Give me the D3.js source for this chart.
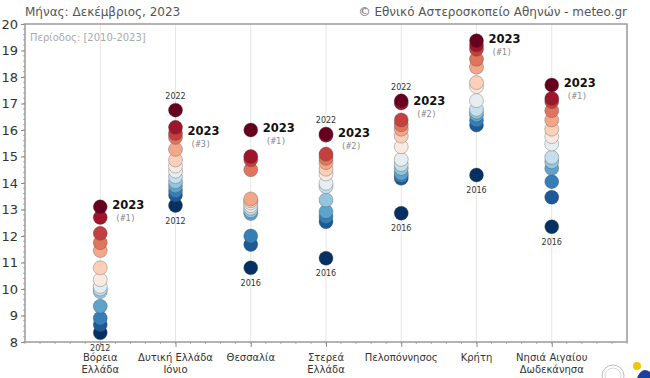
<!DOCTYPE html>
<html><head><meta charset="utf-8">
<script src="https://cdn.jsdelivr.net/npm/d3@7"></script>
<style>
body{margin:0;background:#fff;}
svg{display:block;font-family:"DejaVu Sans",Verdana,sans-serif;}
</style></head>
<body><svg id="c" width="650" height="378"></svg>
<script>
// ---- data ----
const regions = ["Βόρεια\nΕλλάδα","Δυτική Ελλάδα\nΙόνιο","Θεσσαλία","Στερεά\nΕλλάδα","Πελοπόννησος","Κρήτη","Νησιά Αιγαίου\nΔωδεκάνησα"];
const valuesBorEll = [13.1,12.7,12.1,11.75,11.45,10.8,10.35,10.1,10.0,9.9,9.35,8.9,8.65,8.35];
const valuesDytEll = [16.75,16.1,15.87,15.72,15.27,14.87,14.64,14.45,14.24,14.05,13.89,13.71,13.55,13.15];
const valuesThess = [16.0,15.0,14.88,14.5,13.4,13.33,13.25,13.15,13.05,12.95,12.85,12.0,11.68,10.8];
const valuesSterea = [15.85,15.8,15.09,14.93,14.77,14.52,14.34,13.99,13.86,13.36,12.92,12.73,12.54,11.16];
const valuesPelop = [17.1,17.02,16.38,16.2,16.03,15.77,15.37,14.89,14.7,14.55,14.37,14.28,14.18,12.86];
const valuesKriti = [19.37,19.21,19.05,18.67,18.37,17.79,17.64,17.11,16.78,16.68,16.57,16.38,16.19,14.3];
const valuesNisia = [17.7,17.19,17.07,16.73,16.38,16.03,15.75,15.47,14.97,14.8,14.55,14.05,13.46,12.35];
const seriesValues = [valuesBorEll,valuesDytEll,valuesThess,valuesSterea,valuesPelop,valuesKriti,valuesNisia];
const value2023 = [13.1,15.87,16.0,15.8,17.02,19.37,17.7];
const rank2023 = ["(#1)","(#3)","(#1)","(#2)","(#2)","(#1)","(#1)"];
const maxYearLabels = [null,"2022",null,"2022","2022",null,null];
const minYearLabels = ["2012","2012","2016","2016","2016","2016","2016"];
const yTicks = [8,9,10,11,12,13,14,15,16,17,18,19,20];
const titleLeft = "Μήνας: Δεκέμβριος, 2023";
const titleRight = "© Εθνικό Αστεροσκοπείο Αθηνών - meteo.gr";
const periodText = "Περίοδος: [2010-2023]";

// ---- layout ----
const svg = d3.select("#c");
const L=25, R=627, T=24, B=342;
const x = d3.scalePoint().domain(regions).range([L,R]).padding(1);
const y = d3.scaleLinear().domain([8,20]).range([B,T]);

// grid
svg.append("g").selectAll("line").data(regions).join("line")
  .attr("x1",d=>x(d)).attr("x2",d=>x(d)).attr("y1",T).attr("y2",B)
  .attr("stroke","#e6e6e6").attr("stroke-width",1);

// minor ticks y
const yMinor = d3.range(8,20.001,0.2);
svg.append("g").selectAll("line").data(yMinor).join("line")
  .attr("x1",L-2).attr("x2",L).attr("y1",d=>y(d)).attr("y2",d=>y(d))
  .attr("stroke","#999").attr("stroke-width",0.8);
// minor ticks x
const step = x.step();
const xMinor = d3.range(0,41).map(i=>L+i*step/5);
svg.append("g").selectAll("line").data(xMinor).join("line")
  .attr("x1",d=>d).attr("x2",d=>d).attr("y1",B).attr("y2",B+2)
  .attr("stroke","#999").attr("stroke-width",0.8);

// y axis
const ya = svg.append("g").attr("transform",`translate(${L},0)`)
  .call(d3.axisLeft(y).tickValues(yTicks).tickSize(4).tickPadding(3).tickFormat(d3.format("d")));
ya.select(".domain").remove();
ya.selectAll(".tick line").attr("stroke","#888");
ya.selectAll(".tick text").attr("font-size",13).attr("fill","#333").attr("font-family","DejaVu Sans, sans-serif");

// x axis
const xa = svg.append("g").attr("transform",`translate(0,${B})`)
  .call(d3.axisBottom(x).tickSize(5).tickFormat(""));
xa.select(".domain").remove();
xa.selectAll(".tick line").attr("stroke","#888");
const xl = svg.append("g").selectAll("text").data(regions).join("text")
  .attr("x",d=>x(d)).attr("y",361).attr("text-anchor","middle")
  .attr("font-size",10).attr("fill","#333");
xl.each(function(d){
  const lines=d.split("\n");
  d3.select(this).selectAll("tspan").data(lines).join("tspan")
    .attr("x",x(d)).attr("dy",(l,i)=>i?12:0).text(l=>l);
});

// frame
svg.append("rect").attr("x",L).attr("y",T).attr("width",R-L).attr("height",B-T)
  .attr("fill","none").attr("stroke","#9a9a9a").attr("stroke-width",1.5);

// titles
svg.append("text").attr("x",L).attr("y",16).attr("font-size",12).attr("fill","#555").text(titleLeft);
svg.append("text").attr("x",R).attr("y",16).attr("font-size",12).attr("fill","#555").attr("text-anchor","end").text(titleRight);
svg.append("text").attr("x",30).attr("y",41).attr("font-size",10).attr("fill","#aaa").text(periodText);

// points
const pts = [];
regions.forEach((r,i)=>{
  const sorted = seriesValues[i].slice().sort((a,b)=>a-b);
  const n = sorted.length;
  sorted.forEach((v,k)=>pts.push({r,v,t:k/(n-1)}));
});
svg.append("g").selectAll("circle").data(pts).join("circle")
  .attr("cx",d=>x(d.r)).attr("cy",d=>y(d.v)).attr("r",7)
  .attr("fill",d=>d3.interpolateRdBu(1-d.t))
  .attr("stroke","#444").attr("stroke-opacity",0.45).attr("stroke-width",0.7);

// annotations
regions.forEach((r,i)=>{
  const cx=x(r);
  const yy=y(value2023[i]);
  svg.append("text").attr("x",cx+12).attr("y",yy+2).attr("font-size",11.5).attr("font-weight","bold").attr("fill","#111").text("2023");
  svg.append("text").attr("x",cx+15).attr("y",yy+14).attr("font-size",8.5).attr("font-family","DejaVu Sans Mono, monospace").attr("fill","#888").text(rank2023[i]);
  const vals=seriesValues[i];
  if(maxYearLabels[i]) svg.append("text").attr("x",cx).attr("y",y(d3.max(vals))-11).attr("text-anchor","middle").attr("font-size",8).attr("fill","#333").text(maxYearLabels[i]);
  svg.append("text").attr("x",cx).attr("y",y(d3.min(vals))+18).attr("text-anchor","middle").attr("font-size",8).attr("fill","#333").text(minYearLabels[i]);
});

// logos
const lg = svg.append("g");
lg.append("circle").attr("cx",613).attr("cy",376).attr("r",11).attr("fill","none").attr("stroke","#bbb").attr("stroke-width",1);
lg.append("circle").attr("cx",613).attr("cy",376).attr("r",8).attr("fill","none").attr("stroke","#ccc").attr("stroke-width",0.8);
lg.append("circle").attr("cx",637).attr("cy",366).attr("r",4).attr("fill","#f5c400");
lg.append("path").attr("d","M637,378 Q642,366 650,372 L650,378 Z").attr("fill","#1d3f99");
</script></body></html>
